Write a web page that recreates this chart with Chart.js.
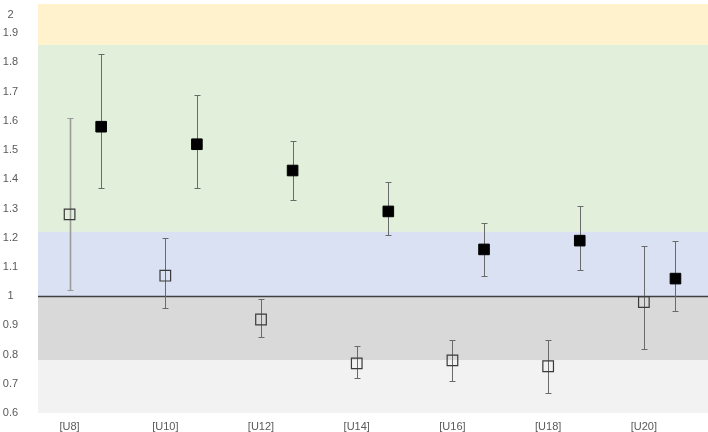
<!DOCTYPE html>
<html>
<head>
<meta charset="utf-8">
<script src="https://cdn.jsdelivr.net/npm/chart.js@4"></script>
<style>
  html, body { margin: 0; padding: 0; background: #ffffff; }
  #wrap { width: 708px; height: 432px; }
</style>
</head>
<body>
<div id="wrap"><canvas id="c" width="708" height="432"></canvas></div>
<script>
const categories = ['[U8]', '[U10]', '[U12]', '[U14]', '[U16]', '[U18]', '[U20]'];
const openValues  = [1.28, 1.07, 0.92, 0.77, 0.78, 0.76, 0.98];
const openUpper   = [1.61, 1.20, 0.99, 0.83, 0.85, 0.85, 1.17];
const openLower   = [1.02, 0.96, 0.86, 0.72, 0.71, 0.67, 0.82];
const filledValues = [1.58, 1.52, 1.43, 1.29, 1.16, 1.19, 1.06];
const filledUpper  = [1.83, 1.69, 1.53, 1.39, 1.25, 1.31, 1.19];
const filledLower  = [1.37, 1.37, 1.33, 1.21, 1.07, 1.09, 0.95];
const bandEdges = [2.0, 1.86, 1.22, 1.0, 0.78, 0.6];
const bandColors = ['#FFF2CC', '#E2EFDA', '#D9E1F2', '#D9D9D9', '#F2F2F2'];
const filledOffset = 0.33;

const openPoints = openValues.map((v, i) => ({ x: i, y: v }));
const filledPoints = filledValues.map((v, i) => ({ x: i + filledOffset, y: v }));

const zeroPad = (scale) => {
  scale.paddingTop = 0; scale.paddingBottom = 0;
  scale.paddingLeft = 0; scale.paddingRight = 0;
};

const bgPlugin = {
  id: 'bands',
  beforeDatasetsDraw(chart) {
    const { ctx, chartArea: a, scales: { x, y } } = chart;
    ctx.save();
    for (let i = 0; i < bandColors.length; i++) {
      const t = y.getPixelForValue(bandEdges[i]);
      const b = y.getPixelForValue(bandEdges[i + 1]);
      ctx.fillStyle = bandColors[i];
      ctx.fillRect(a.left, t, a.right - a.left, b - t);
    }
    const y1 = Math.round(y.getPixelForValue(1)) + 0.5;
    ctx.strokeStyle = '#404040';
    ctx.lineWidth = 1.5;
    ctx.beginPath();
    ctx.moveTo(a.left, y1);
    ctx.lineTo(a.right, y1);
    ctx.stroke();
    const drawBar = (xv, lo, hi, color, w) => {
      const px = Math.round(x.getPixelForValue(xv)) + 0.5;
      const pl = Math.round(y.getPixelForValue(lo)) + 0.5;
      const ph = Math.round(y.getPixelForValue(hi)) + 0.5;
      ctx.strokeStyle = color;
      ctx.lineWidth = w;
      ctx.beginPath();
      ctx.moveTo(px, ph); ctx.lineTo(px, pl);
      ctx.stroke();
      ctx.lineWidth = 1;
      ctx.beginPath();
      ctx.moveTo(px - 3, ph); ctx.lineTo(px + 3, ph);
      ctx.moveTo(px - 3, pl); ctx.lineTo(px + 3, pl);
      ctx.stroke();
    };
    openValues.forEach((v, i) => drawBar(i, openLower[i], openUpper[i], i === 0 ? '#9a9a9a' : '#6a6a6a', i === 0 ? 1.6 : 1));
    filledValues.forEach((v, i) => drawBar(i + filledOffset, filledLower[i], filledUpper[i], '#6a6a6a', 1));
    ctx.restore();
  },
  afterDraw(chart) {
    const { ctx, scales: { y } } = chart;
    ctx.save();
    ctx.fillStyle = '#595959';
    ctx.font = '11px "Liberation Sans"';
    ctx.textAlign = 'center';
    ctx.textBaseline = 'middle';
    y.ticks.forEach((t) => {
      let py = y.getPixelForValue(t.value);
      if (py < 10) py = 15;
      ctx.fillText(String(Math.round(t.value * 10) / 10), 10.5, py);
    });
    ctx.restore();
  }
};

new Chart(document.getElementById('c'), {
  type: 'scatter',
  data: {
    datasets: [
      {
        label: 'open',
        data: openPoints,
        pointStyle: 'rect',
        pointRadius: 7.5,
        pointHoverRadius: 7.5,
        backgroundColor: 'rgba(0,0,0,0)',
        borderColor: '#3a3a3a',
        pointBorderWidth: 1.2,
        order: 2
      },
      {
        label: 'filled',
        data: filledPoints,
        pointStyle: 'rect',
        pointRadius: 7.5,
        pointHoverRadius: 7.5,
        backgroundColor: '#000000',
        borderColor: '#000000',
        pointBorderWidth: 1,
        order: 1
      }
    ]
  },
  options: {
    responsive: false,
    animation: false,
    events: [],
    layout: { autoPadding: false, padding: { top: 4, right: 0, bottom: 0, left: 0 } },
    plugins: { legend: { display: false }, tooltip: { enabled: false } },
    scales: {
      x: {
        type: 'linear',
        min: -0.33,
        max: 6.67,
        grid: { display: false, drawTicks: false },
        border: { display: false },
        afterBuildTicks(scale) {
          scale.ticks = categories.map((c, i) => ({ value: i }));
        },
        afterFit(scale) { scale.height = 19; zeroPad(scale); },
        ticks: {
          color: '#595959',
          font: { family: 'Liberation Sans', size: 11 },
          padding: 7,
          autoSkip: false,
          maxRotation: 0,
          callback: (v) => categories[v]
        }
      },
      y: {
        min: 0.6,
        max: 2,
        grid: { display: false, drawTicks: false },
        border: { display: false },
        afterFit(scale) { scale.width = 38; zeroPad(scale); },
        ticks: {
          display: false,
          stepSize: 0.1
        }
      }
    }
  },
  plugins: [bgPlugin]
});
</script>
</body>
</html>
